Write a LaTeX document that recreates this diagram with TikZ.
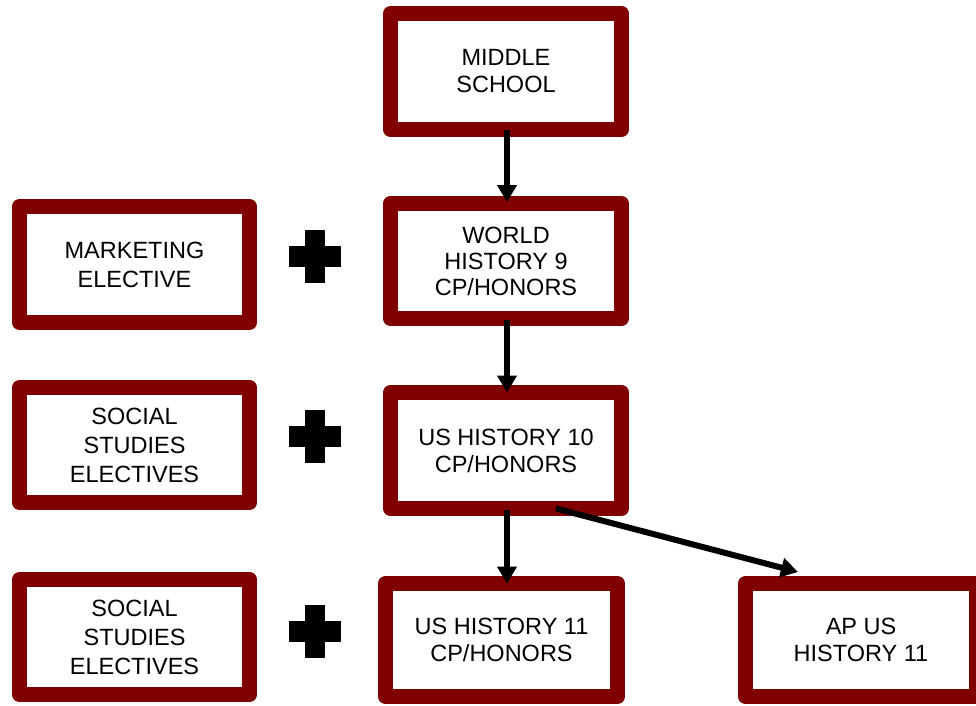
\documentclass[tikz,border=0pt]{standalone}
\usepackage{fontspec}
\setmainfont{Liberation Sans}
\usetikzlibrary{arrows.meta}
\definecolor{boxred}{RGB}{128,0,0}
\tikzset{
  course/.style={draw=boxred, line width=15pt, line join=round, fill=white,
    inner sep=0pt, outer sep=0pt, minimum width=231pt, minimum height=116pt, align=center,
    font=\fontsize{23.5}{27}\selectfont},
  flow/.style={line width=6pt, -{Triangle[length=17pt,width=19pt]}},
  plussign/.pic={\fill[black] (-26,-10.5) rectangle (26,10.5);
                 \fill[black] (-10,-26.5) rectangle (10,26.5);}
}
\begin{document}
\begin{tikzpicture}[x=1pt,y=-1pt]
\useasboundingbox (0,0) rectangle (976,705);
\clip (0,0) rectangle (976,705);
\node[course] (ms) at (506,71.5) {MIDDLE\\SCHOOL};
\node[course, minimum height=115pt, font=\fontsize{23.5}{26}\selectfont] (wh9) at (506,261) {WORLD\\HISTORY 9\\CP/HONORS};
\node[course] (us10) at (506,450.5) {US HISTORY 10\\CP/HONORS};
\node[course, minimum width=232pt, minimum height=113pt] (us11) at (501.5,640) {US HISTORY 11\\CP/HONORS};
\node[course, minimum height=113pt] (ap) at (861,640) {AP US\\HISTORY 11};
\node[course, minimum width=230pt, font=\fontsize{23.5}{29}\selectfont] (mkt) at (134.5,264.5) {MARKETING\\ELECTIVE};
\node[course, minimum width=230pt, minimum height=115pt, font=\fontsize{23.5}{29}\selectfont] (ss1) at (134.5,445) {SOCIAL\\STUDIES\\ELECTIVES};
\node[course, minimum width=230pt, minimum height=115pt, font=\fontsize{23.5}{29}\selectfont] (ss2) at (134.5,637) {SOCIAL\\STUDIES\\ELECTIVES};
\pic at (315,256.5) {plussign};
\pic at (315,436.5) {plussign};
\pic at (315,631) {plussign};
\coordinate (a1) at ([xshift=1pt]ms.south);
\coordinate (a2) at ([xshift=1pt,yshift=-1.5pt]wh9.south);
\coordinate (a3) at ([xshift=1pt,yshift=-1.5pt]us10.south);
\coordinate (a4) at ([xshift=50pt]us10.south);
\coordinate (t4) at ([xshift=-63pt,yshift=11.5pt]ap.north);
\draw[flow] (a1) -- ([yshift=1.5pt]a1 |- wh9.north);
\draw[flow] (a2) -- (a2 |- us10.north);
\draw[flow] (a3) -- (a3 |- us11.north);
\draw[flow] (a4) -- (t4);
\end{tikzpicture}
\end{document}
